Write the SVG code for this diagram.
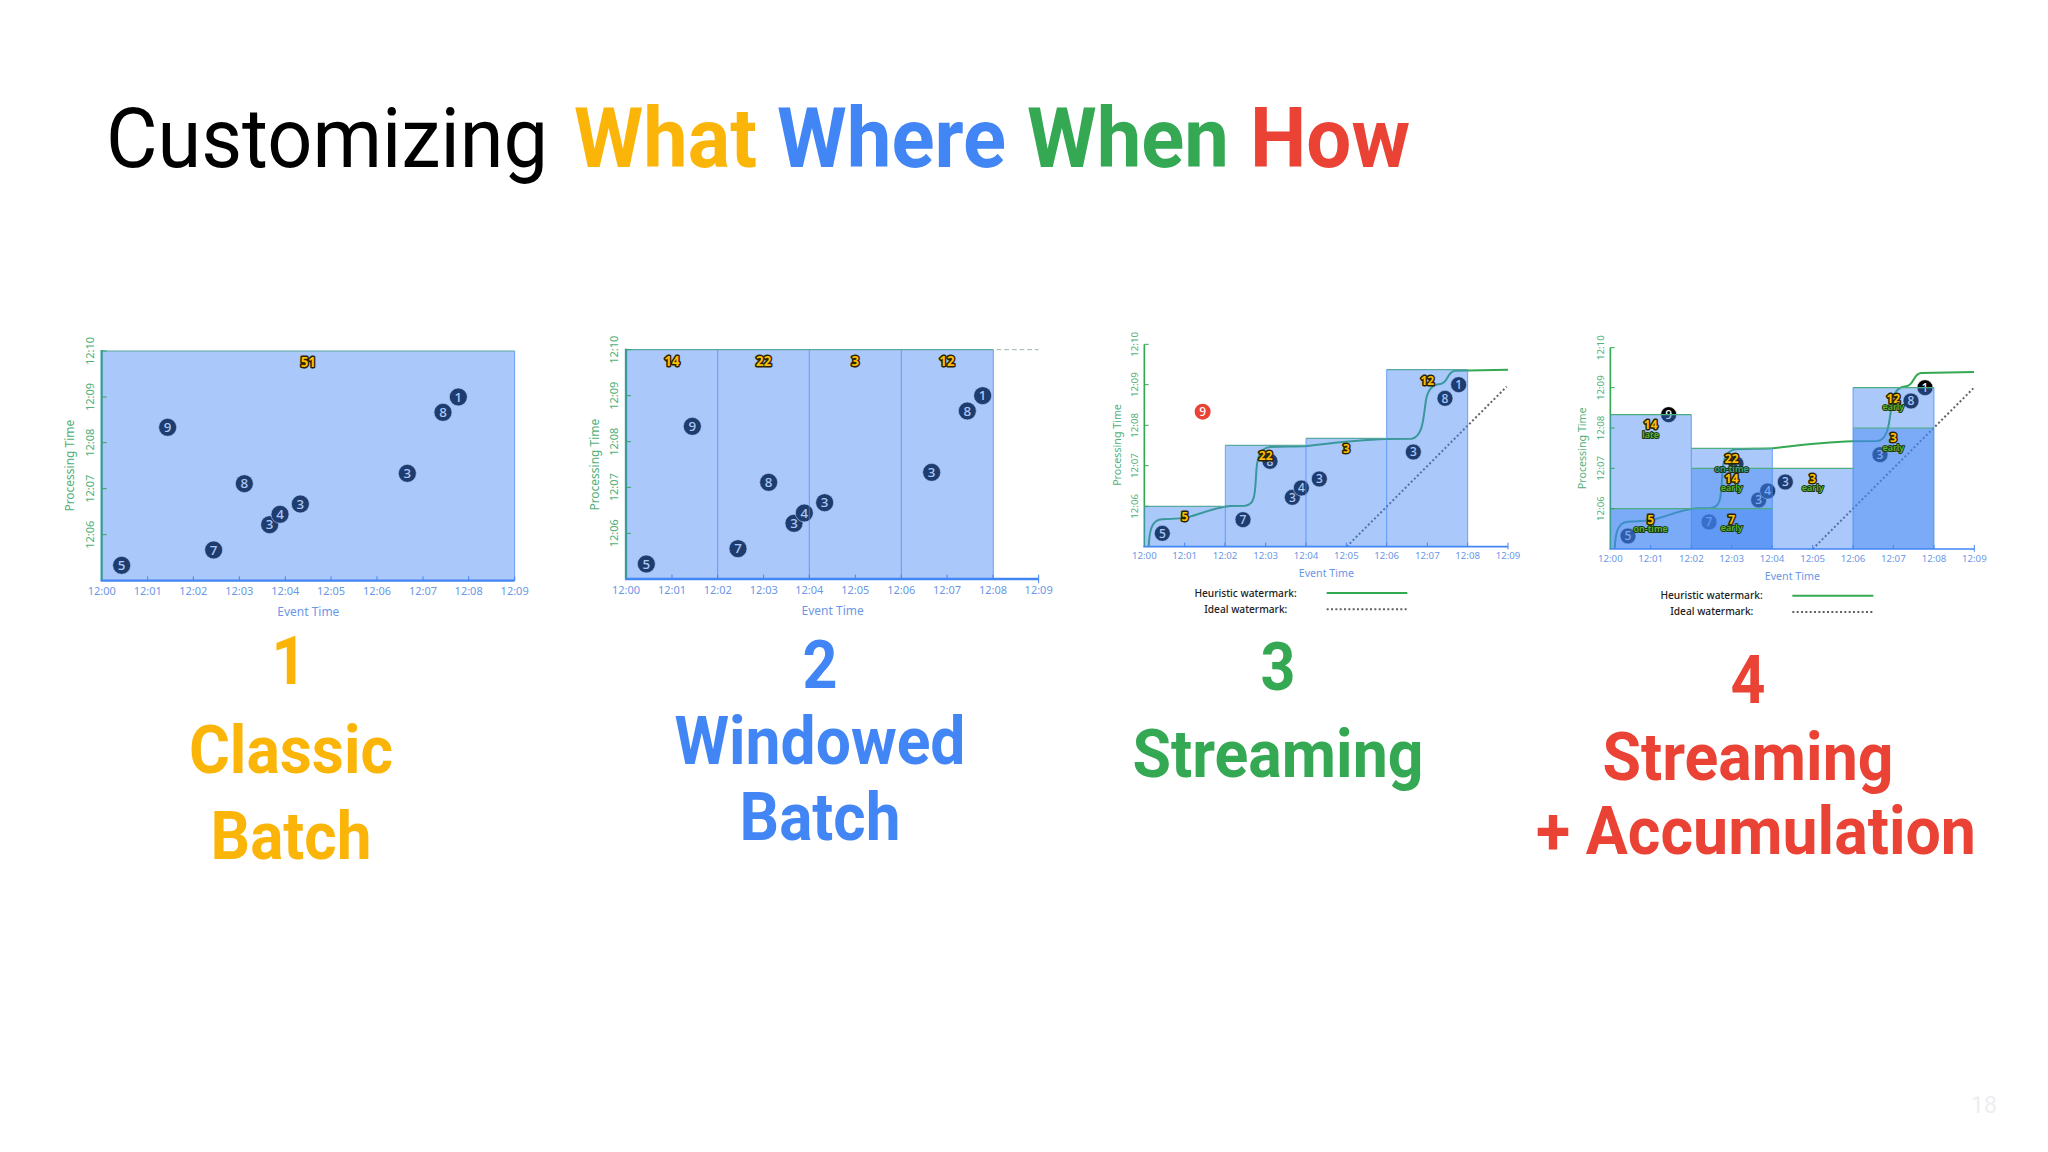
<svg xmlns="http://www.w3.org/2000/svg" width="2048" height="1152" viewBox="0 0 2048 1152">
<style>
text{font-family:"Noto Sans","DejaVu Sans",sans-serif}
.big text,.title text,.pg{font-family:Roboto,"Liberation Sans",sans-serif}
.title text{font-size:84px}
.big text{font-size:66px;font-weight:700;text-anchor:middle}
.b{font-weight:700}
.y{fill:#fbb508}.bl{fill:#4285f4}.gr{fill:#34a853}.r{fill:#ea4335}
.xl{fill:#6b97e6;text-anchor:middle}
.yl{fill:#4fb07a;text-anchor:middle}
.xt{fill:#6b97e6;text-anchor:middle}
.yt{fill:#4fb07a;text-anchor:middle}
.A .xl,.A .yl{font-size:33px}.A .xt,.A .yt{font-size:36px}
.B .xl,.B .yl{font-size:29px}.B .xt,.B .yt{font-size:32px}
.xa{stroke:#4285f4;fill:none}.ya{stroke:#34a853;fill:none}
.A .xa,.A .ya{stroke-width:7}
.A .ya{stroke:#3a9a9c}
.B .xa,.B .ya{stroke-width:5}
.cov{stroke:#3a9c98;stroke-width:5;fill:none}
.t1{stroke:#4285f4;stroke-width:3;fill:none}.t2{stroke:#34a853;stroke-width:3;fill:none}
.d{fill:#000;stroke:#fff;stroke-width:2}
.n{fill:#fff;font-weight:500;text-anchor:middle}
.A .n{font-size:40px}.B .n{font-size:36px}
.win{fill:#4285f4;fill-opacity:.45;stroke:none}
.side{stroke:#4285f4;stroke-opacity:.7;stroke-width:3;fill:none}
.top{stroke:#5aa8a0;stroke-width:3.5;fill:none}
#chart-4 .top{stroke:#4cae80}
.bd{fill:#fbbc04;stroke:#2b2200;stroke-width:9;paint-order:stroke;stroke-linejoin:round;font-weight:700;text-anchor:middle}
.A .bd{font-size:40px}.B .bd{font-size:36px}
.sub{fill:#5cb531;stroke:#1d3a14;stroke-width:6;paint-order:stroke;stroke-linejoin:round;font-weight:600;font-size:27px;text-anchor:middle}
.wm{fill:none;stroke:#34a853;stroke-width:6}
.im{fill:none;stroke:#5f6368;stroke-width:6;stroke-dasharray:6 7}
.lg{fill:#202124;font-size:30.5px;font-weight:500;text-anchor:end}
</style>
<defs>
<path id="wmk" class="wm" d="M176 680C178 640 182 600 215 598C250 597 280 596 300 590C340 578 380 562 420 558L465 557C495 555 495 520 498 470C500 420 505 385 540 381C580 379 620 380 650 378C720 370 800 360 890 357L965 356C1000 350 1000 290 1008 240C1015 200 1035 193 1050 192C1075 190 1070 155 1095 152L1254 149"/>
</defs>
<rect width="2048" height="1152" fill="#fff"/>
<g id="title" class="title">
<text x="106" y="167" fill="#000" textLength="442" lengthAdjust="spacingAndGlyphs">Customizing</text>
<text x="574" y="167" class="y b" textLength="183" lengthAdjust="spacingAndGlyphs">What</text>
<text x="777" y="167" class="bl b" textLength="229" lengthAdjust="spacingAndGlyphs">Where</text>
<text x="1027" y="167" class="gr b" textLength="202" lengthAdjust="spacingAndGlyphs">When</text>
<text x="1250" y="167" class="r b" textLength="160" lengthAdjust="spacingAndGlyphs">How</text>
</g>

<g id="chart-1" class="A" transform="translate(40 320) scale(.33333)">
<g id="chart-1-points">
<circle class="d" cx="245" cy="736" r="27"/><text class="n" x="245" y="750">5</text>
<circle class="d" cx="521" cy="690" r="27"/><text class="n" x="521" y="704">7</text>
<circle class="d" cx="383" cy="322" r="27"/><text class="n" x="383" y="336">9</text>
<circle class="d" cx="613" cy="491" r="27"/><text class="n" x="613" y="505">8</text>
<circle class="d" cx="689" cy="614" r="27"/><text class="n" x="689" y="628">3</text>
<circle class="d" cx="720" cy="583" r="27"/><text class="n" x="720" y="597">4</text>
<circle class="d" cx="781" cy="552" r="27"/><text class="n" x="781" y="566">3</text>
<circle class="d" cx="1102" cy="460" r="27"/><text class="n" x="1102" y="474">3</text>
<circle class="d" cx="1209" cy="277" r="27"/><text class="n" x="1209" y="291">8</text>
<circle class="d" cx="1255" cy="231" r="27"/><text class="n" x="1255" y="245">1</text>
</g>
<g id="chart-1-windows">
<rect class="win" x="185" y="93" width="1239" height="689"/>
<path class="side" d="M1424 93V782"/><path class="top" d="M185 93H1424"/>
</g>
<g id="chart-1-axes">
<path class="t1" d="M323 769V782M460 769V782M598 769V782M736 769V782M873 769V782M1011 769V782M1149 769V782M1286 769V782M1424 769V782"/>
<path class="t2" d="M185 644H200M185 506H200M185 368H200M185 231H200M185 93H200"/>
<path class="ya" d="M185 90V782"/><path class="xa" d="M182 782H1424"/>
</g>
<g id="chart-1-labels">
<text class="xl" x="185" y="826">12:00</text><text class="xl" x="323" y="826">12:01</text><text class="xl" x="460" y="826">12:02</text><text class="xl" x="598" y="826">12:03</text><text class="xl" x="736" y="826">12:04</text><text class="xl" x="873" y="826">12:05</text><text class="xl" x="1011" y="826">12:06</text><text class="xl" x="1149" y="826">12:07</text><text class="xl" x="1286" y="826">12:08</text><text class="xl" x="1424" y="826">12:09</text>
<text class="yl" transform="translate(161 644) rotate(-90)">12:06</text><text class="yl" transform="translate(161 506) rotate(-90)">12:07</text><text class="yl" transform="translate(161 368) rotate(-90)">12:08</text><text class="yl" transform="translate(161 231) rotate(-90)">12:09</text><text class="yl" transform="translate(161 93) rotate(-90)">12:10</text>
<text class="yt" transform="translate(103 437) rotate(-90)">Processing Time</text>
<text class="xt" x="805" y="888">Event Time</text>
<text class="bd" x="805" y="142">51</text>
</g>
</g>

<g id="chart-2" class="A" transform="translate(570 320) scale(.33333)">
<g id="chart-2-points">
<circle class="d" cx="229" cy="732" r="27"/><text class="n" x="229" y="746">5</text>
<circle class="d" cx="504" cy="686" r="27"/><text class="n" x="504" y="700">7</text>
<circle class="d" cx="367" cy="319" r="27"/><text class="n" x="367" y="333">9</text>
<circle class="d" cx="596" cy="487" r="27"/><text class="n" x="596" y="501">8</text>
<circle class="d" cx="672" cy="610" r="27"/><text class="n" x="672" y="624">3</text>
<circle class="d" cx="703" cy="579" r="27"/><text class="n" x="703" y="593">4</text>
<circle class="d" cx="764" cy="548" r="27"/><text class="n" x="764" y="562">3</text>
<circle class="d" cx="1085" cy="457" r="27"/><text class="n" x="1085" y="471">3</text>
<circle class="d" cx="1192" cy="273" r="27"/><text class="n" x="1192" y="287">8</text>
<circle class="d" cx="1238" cy="227" r="27"/><text class="n" x="1238" y="241">1</text>
</g>
<g id="chart-2-windows">
<rect class="win" x="168" y="89" width="275" height="688"/>
<rect class="win" x="443" y="89" width="275" height="688"/>
<rect class="win" x="718" y="89" width="276" height="688"/>
<rect class="win" x="994" y="89" width="276" height="688"/>
<path class="side" d="M443 89V777M718 89V777M994 89V777M1270 89V777"/>
<path class="top" d="M168 89H1270"/>
<path d="M1280 89H1406" fill="none" stroke="#9db5ab" stroke-width="3" stroke-dasharray="14 9"/>
</g>
<g id="chart-2-axes">
<path class="t1" d="M306 764V777M443 764V777M581 764V777M718 764V777M856 764V777M994 764V777M1131 764V777M1269 764V777M1406 764V790"/>
<path class="t2" d="M168 640H183M168 502H183M168 365H183M168 227H183M168 89H183"/>
<path class="ya" d="M168 86V777"/><path class="xa" d="M165 777H1406"/>
</g>
<g id="chart-2-labels">
<text class="xl" x="168" y="821">12:00</text><text class="xl" x="306" y="821">12:01</text><text class="xl" x="443" y="821">12:02</text><text class="xl" x="581" y="821">12:03</text><text class="xl" x="718" y="821">12:04</text><text class="xl" x="856" y="821">12:05</text><text class="xl" x="994" y="821">12:06</text><text class="xl" x="1131" y="821">12:07</text><text class="xl" x="1269" y="821">12:08</text><text class="xl" x="1406" y="821">12:09</text>
<text class="yl" transform="translate(145 640) rotate(-90)">12:06</text><text class="yl" transform="translate(145 502) rotate(-90)">12:07</text><text class="yl" transform="translate(145 365) rotate(-90)">12:08</text><text class="yl" transform="translate(145 227) rotate(-90)">12:09</text><text class="yl" transform="translate(145 89) rotate(-90)">12:10</text>
<text class="yt" transform="translate(87 434) rotate(-90)">Processing Time</text>
<text class="xt" x="788" y="884">Event Time</text>
<text class="bd" x="306" y="139">14</text><text class="bd" x="581" y="139">22</text><text class="bd" x="856" y="139">3</text><text class="bd" x="1131" y="139">12</text>
</g>
</g>

<g id="chart-3" class="B" transform="translate(1090 320) scale(.33333)">
<g id="chart-3-lines">
<use href="#wmk"/>
<path class="im" d="M770 680L1250 200"/>
</g>
<g id="chart-3-points">
<circle class="d" cx="217" cy="640" r="24"/><text class="n" x="217" y="653">5</text>
<circle class="d" cx="459" cy="599" r="24"/><text class="n" x="459" y="612">7</text>
<circle cx="338" cy="275" r="24" fill="#ea4335"/><text class="n" x="338" y="288">9</text>
<circle class="d" cx="540" cy="424" r="24"/><text class="n" x="540" y="437">8</text>
<circle class="d" cx="607" cy="532" r="24"/><text class="n" x="607" y="545">3</text>
<circle class="d" cx="634" cy="504" r="24"/><text class="n" x="634" y="517">4</text>
<circle class="d" cx="688" cy="477" r="24"/><text class="n" x="688" y="490">3</text>
<circle class="d" cx="970" cy="396" r="24"/><text class="n" x="970" y="409">3</text>
<circle class="d" cx="1065" cy="235" r="24"/><text class="n" x="1065" y="248">8</text>
<circle class="d" cx="1106" cy="194" r="24"/><text class="n" x="1106" y="207">1</text>
</g>
<g id="chart-3-windows">
<rect class="win" x="163" y="559" width="243" height="121"/>
<rect class="win" x="406" y="376" width="242" height="304"/>
<rect class="win" x="648" y="355" width="242" height="325"/>
<rect class="win" x="890" y="149" width="243" height="531"/>
<path class="side" d="M406 376V680M648 355V680M890 149V680M1133 149V680"/>
<path class="top" d="M163 559H406M406 376H648M648 355H890M890 149H1133"/>
</g>
<g id="chart-3-axes">
<path class="t1" d="M284 668V680M405 668V680M527 668V680M648 668V680M769 668V680M890 668V680M1012 668V680M1133 668V680M1254 668V688"/>
<path class="t2" d="M163 559H176M163 437H176M163 316H176M163 194H176M163 73H176"/>
<path class="ya" d="M163 73V559"/><path class="cov" d="M163 559V680"/><path class="xa" d="M160 680H1254"/>
</g>
<g id="chart-3-labels">
<text class="xl" x="163" y="718">12:00</text><text class="xl" x="284" y="718">12:01</text><text class="xl" x="405" y="718">12:02</text><text class="xl" x="527" y="718">12:03</text><text class="xl" x="648" y="718">12:04</text><text class="xl" x="769" y="718">12:05</text><text class="xl" x="890" y="718">12:06</text><text class="xl" x="1012" y="718">12:07</text><text class="xl" x="1133" y="718">12:08</text><text class="xl" x="1254" y="718">12:09</text>
<text class="yl" transform="translate(144 559) rotate(-90)">12:06</text><text class="yl" transform="translate(144 437) rotate(-90)">12:07</text><text class="yl" transform="translate(144 316) rotate(-90)">12:08</text><text class="yl" transform="translate(144 194) rotate(-90)">12:09</text><text class="yl" transform="translate(144 73) rotate(-90)">12:10</text>
<text class="yt" transform="translate(92 375) rotate(-90)">Processing Time</text>
<text class="xt" x="709" y="772">Event Time</text>
<text class="bd" x="285" y="603">5</text><text class="bd" x="527" y="421">22</text><text class="bd" x="769" y="399">3</text><text class="bd" x="1012" y="194">12</text>
</g>
<g id="chart-3-legend">
<text class="lg" x="620" y="830">Heuristic watermark:</text>
<text class="lg" x="592" y="878">Ideal watermark:</text>
<path class="wm" d="M710 819H952"/>
<path class="im" d="M710 868H952"/>
</g>
</g>

<g id="chart-4" class="B" transform="translate(1560 320) scale(.33333)">
<g id="chart-4-lines">
<use href="#wmk" transform="translate(-12 7)"/>
<path class="im" d="M758 687L1240 205"/>
</g>
<g id="chart-4-points">
<circle class="d" cx="204" cy="648" r="24"/><text class="n" x="204" y="661">5</text>
<circle class="d" cx="447" cy="606" r="24"/><text class="n" x="447" y="619">7</text>
<circle class="d" cx="326" cy="284" r="24"/><text class="n" x="326" y="297">9</text>
<circle class="d" cx="528" cy="432" r="24"/><text class="n" x="528" y="445">8</text>
<circle class="d" cx="596" cy="540" r="24"/><text class="n" x="596" y="553">3</text>
<circle class="d" cx="623" cy="513" r="24"/><text class="n" x="623" y="526">4</text>
<circle class="d" cx="676" cy="486" r="24"/><text class="n" x="676" y="499">3</text>
<circle class="d" cx="960" cy="404" r="24"/><text class="n" x="960" y="417">3</text>
<circle class="d" cx="1053" cy="243" r="24"/><text class="n" x="1053" y="256">8</text>
<circle class="d" cx="1095" cy="203" r="24"/><text class="n" x="1095" y="216">1</text>
</g>
<g id="chart-4-windows">
<rect class="win" x="151" y="566" width="243" height="121"/>
<rect class="win" x="151" y="284" width="243" height="403"/>
<rect class="win" x="394" y="566" width="243" height="121"/>
<rect class="win" x="394" y="445" width="243" height="242"/>
<rect class="win" x="394" y="385" width="243" height="302"/>
<rect class="win" x="637" y="445" width="242" height="242"/>
<rect class="win" x="879" y="324" width="243" height="363"/>
<rect class="win" x="879" y="203" width="243" height="484"/>
<path class="side" d="M394 284V687M637 385V687M879 203V687M1122 203V687"/>
<path class="top" d="M151 284H394M394 385H637M151 566H637M394 445H879M879 324H1122M879 203H1122"/>
</g>
<g id="chart-4-axes">
<path class="t1" d="M272 675V687M394 675V687M515 675V687M636 675V687M758 675V687M879 675V687M1000 675V687M1122 675V687M1243 675V695"/>
<path class="t2" d="M151 566H164M151 445H164M151 324H164M151 203H164M151 83H164"/>
<path class="ya" d="M151 83V284"/><path class="cov" d="M151 284V687"/><path class="xa" d="M148 687H1243"/>
</g>
<g id="chart-4-labels">
<text class="xl" x="151" y="726">12:00</text><text class="xl" x="272" y="726">12:01</text><text class="xl" x="394" y="726">12:02</text><text class="xl" x="515" y="726">12:03</text><text class="xl" x="636" y="726">12:04</text><text class="xl" x="758" y="726">12:05</text><text class="xl" x="879" y="726">12:06</text><text class="xl" x="1000" y="726">12:07</text><text class="xl" x="1122" y="726">12:08</text><text class="xl" x="1243" y="726">12:09</text>
<text class="yl" transform="translate(131 566) rotate(-90)">12:06</text><text class="yl" transform="translate(131 445) rotate(-90)">12:07</text><text class="yl" transform="translate(131 324) rotate(-90)">12:08</text><text class="yl" transform="translate(131 203) rotate(-90)">12:09</text><text class="yl" transform="translate(131 83) rotate(-90)">12:10</text>
<text class="yt" transform="translate(78 385) rotate(-90)">Processing Time</text>
<text class="xt" x="697" y="780">Event Time</text>
<text class="bd" x="272" y="327">14</text><text class="sub" x="272" y="353">late</text>
<text class="bd" x="515" y="430">22</text><text class="sub" x="515" y="456" style="fill:#3f9f8f">on-time</text>
<text class="bd" x="515" y="490">14</text><text class="sub" x="515" y="513">early</text>
<text class="bd" x="515" y="611">7</text><text class="sub" x="515" y="634">early</text>
<text class="bd" x="272" y="611">5</text><text class="sub" x="272" y="637">on-time</text>
<text class="bd" x="758" y="489">3</text><text class="sub" x="758" y="513">early</text>
<text class="bd" x="1000" y="248">12</text><text class="sub" x="1000" y="271">early</text>
<text class="bd" x="1000" y="367">3</text><text class="sub" x="1000" y="392">early</text>
</g>
<g id="chart-4-legend">
<text class="lg" x="608" y="838">Heuristic watermark:</text>
<text class="lg" x="580" y="886">Ideal watermark:</text>
<path class="wm" d="M697 827H940"/>
<path class="im" d="M697 876H940"/>
</g>
</g>

<g id="caption-1" class="big y">
<text x="289" y="684" textLength="35" lengthAdjust="spacingAndGlyphs">1</text><text x="291" y="773" textLength="204" lengthAdjust="spacingAndGlyphs">Classic</text><text x="291" y="859" textLength="161" lengthAdjust="spacingAndGlyphs">Batch</text>
</g>
<g id="caption-2" class="big bl">
<text x="820" y="688" textLength="35" lengthAdjust="spacingAndGlyphs">2</text><text x="820" y="764" textLength="291" lengthAdjust="spacingAndGlyphs">Windowed</text><text x="820" y="840" textLength="161" lengthAdjust="spacingAndGlyphs">Batch</text>
</g>
<g id="caption-3" class="big gr">
<text x="1278" y="690" textLength="35" lengthAdjust="spacingAndGlyphs">3</text><text x="1278" y="777" textLength="291" lengthAdjust="spacingAndGlyphs">Streaming</text>
</g>
<g id="caption-4" class="big r">
<text x="1748" y="703" textLength="35" lengthAdjust="spacingAndGlyphs">4</text><text x="1748" y="780" textLength="291" lengthAdjust="spacingAndGlyphs">Streaming</text><text x="1756" y="854" textLength="440" lengthAdjust="spacingAndGlyphs">+ Accumulation</text>
</g>
<text class="pg" x="1984" y="1113" font-size="23" text-anchor="middle" fill="#eeeef1">18</text>
</svg>
